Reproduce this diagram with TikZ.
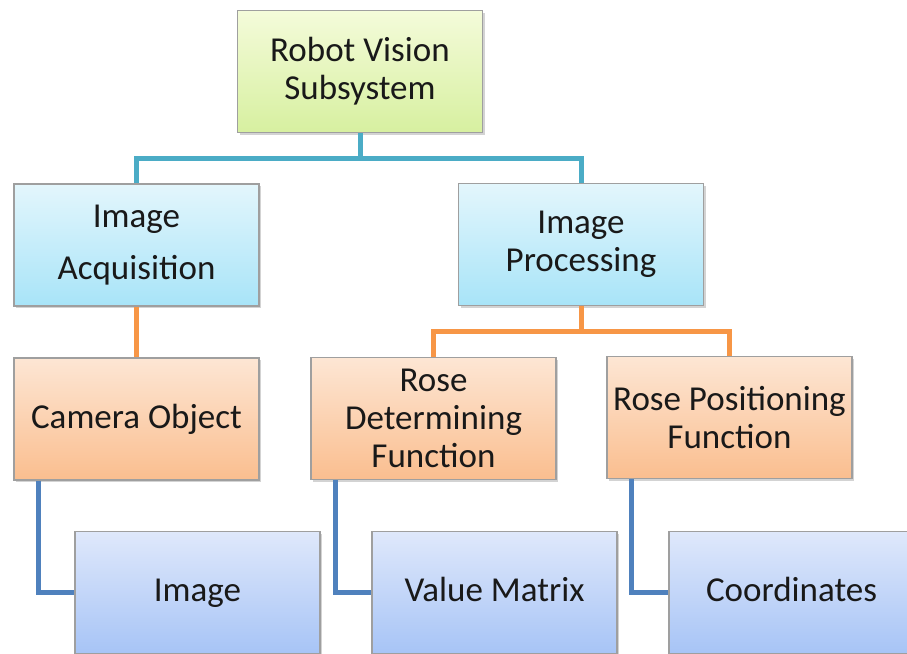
\documentclass[tikz,border=0pt]{standalone}
\usepackage{fontspec}
\setmainfont{Carlito}
\usetikzlibrary{shadows}

\definecolor{lineaqua}{HTML}{4BACC6}
\definecolor{lineorange}{HTML}{F79646}
\definecolor{lineblue}{HTML}{4F81BD}
\definecolor{greentop}{HTML}{F4FBDA}
\definecolor{greenbot}{HTML}{D7F0A0}
\definecolor{cyantop}{HTML}{E3F6FC}
\definecolor{cyanbot}{HTML}{A8E4F8}
\definecolor{orangetop}{HTML}{FDE6D4}
\definecolor{orangebot}{HTML}{FABE8F}
\definecolor{bluetop}{HTML}{DFE8FB}
\definecolor{bluebot}{HTML}{A7C4F6}

\tikzset{
    box/.style={draw=gray!75, line width=0.6pt, align=center,
        minimum width=122.5pt, minimum height=61pt, inner sep=2pt,
        font=\fontsize{17.5}{19}\selectfont, text=black!90,
        drop shadow={shadow xshift=1.2pt, shadow yshift=-1.2pt, opacity=0.35}},
    greenbox/.style={box, top color=greentop, bottom color=greenbot},
    cyanbox/.style={box, top color=cyantop, bottom color=cyanbot},
    orangebox/.style={box, top color=orangetop, bottom color=orangebot},
    bluebox/.style={box, top color=bluetop, bottom color=bluebot,
        text height=12.5pt, text depth=3.5pt},
    link/.style={line width=2.5pt}
}

\begin{document}
\begin{tikzpicture}[x=0.5pt, y=-0.5pt]
    \useasboundingbox (0,0) rectangle (907,654);

    % Top level
    \node[greenbox] (rvs) at (360,71.5) {Robot Vision\\Subsystem};

    % Second level
    \node[cyanbox] (acq) at (136.5,245) {Image\\[7pt]Acquisition};
    \node[cyanbox] (proc) at (581,244.5) {Image\\Processing};

    % Third level
    \node[orangebox] (cam) at (136.5,419) {Camera Object};
    \node[orangebox] (rdf) at (433.5,418.5) {Rose\\Determining\\Function};
    \node[orangebox] (rpf) at (729.5,417.5) {Rose Positioning\\Function};

    % Fourth level
    \node[bluebox] (img) at (197.5,592.5) {Image};
    \node[bluebox] (vmat) at (494.5,592.5) {Value Matrix};
    \node[bluebox] (coord) at (791.5,592.5) {Coordinates};

    % Connectors
    \draw[link, lineaqua] (rvs.south) -- ++(0,25) coordinate (tj) -| (acq.north);
    \draw[link, lineaqua] (tj) -| (proc.north);

    \draw[link, lineorange] (acq.south) -- (cam.north);
    \draw[link, lineorange] (proc.south) -- ++(0,25) coordinate (pj) -| (rdf.north);
    \draw[link, lineorange] (pj) -| (rpf.north);

    \draw[link, lineblue] (cam.south west) ++(25,0) |- (img.west);
    \draw[link, lineblue] (rdf.south west) ++(25,0) |- (vmat.west);
    \draw[link, lineblue] (rpf.south west) ++(25,0) |- (coord.west);
\end{tikzpicture}
\end{document}
